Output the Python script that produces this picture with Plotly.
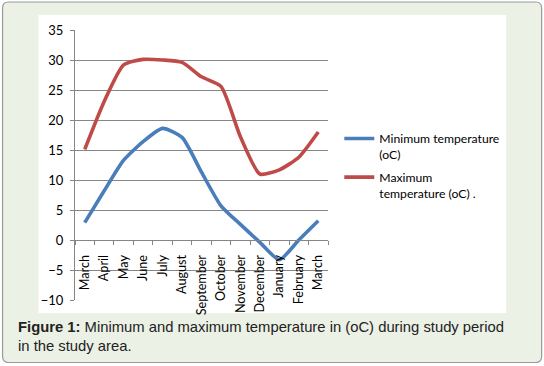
import plotly.graph_objects as go

# ---------------- data ----------------
months = ["March", "April", "May", "June", "July", "August", "September",
          "October", "November", "December", "January", "February", "March"]
min_temp = [2.9, 8.2, 13.3, 16.4, 18.6, 17.1, 11.3, 5.7, 2.6, -0.4, -3.3, 0.0, 3.2]
max_temp = [15.1, 23.1, 29.2, 30.1, 30.0, 29.6, 27.2, 25.6, 17.2, 11.0, 11.7, 13.8, 18.0]
series_names = ["Minimum temperature<br>(oC)", "Maximum<br>temperature (oC) ."]
y_ticks = [-10, -5, 0, 5, 10, 15, 20, 25, 30, 35]
caption = ("<b>Figure 1:</b> Minimum and maximum temperature in (oC) during study period"
           "<br>in the study area.")

# ---------------- layout geometry ----------------
W, H = 544, 366
ML, MR, MT, MB = 74.5, 216.3, 30, 66
PW, PH = W - ML - MR, H - MT - MB


def px_x(px):
    return (px - ML) / PW


def px_y(py):
    return (H - MB - py) / PH


x_idx = list(range(len(months)))
boundaries = [i - 0.5 for i in range(len(months) + 1)]

BLUE = "#4A7EBB"
RED = "#BE4B48"
GRID = "#868686"
FONT = "Lato"

fig = go.Figure()
fig.add_trace(go.Scatter(x=x_idx, y=min_temp, name=series_names[0], mode="lines",
                         legendgroup="min",
                         line=dict(color=BLUE, width=3.6, shape="spline", smoothing=0.6)))
fig.add_trace(go.Scatter(x=x_idx, y=max_temp, name=series_names[1], mode="lines",
                         legendgroup="max",
                         line=dict(color=RED, width=3.6, shape="spline", smoothing=0.6)))

ymin, ymax = y_ticks[0], y_ticks[-1]

# rounded outer panel
x0, y0, x1, y1, r = px_x(2), px_y(2), px_x(541.5), px_y(362.5), 6
rx, ry = r / PW, r / PH
path = (f"M{x0 + rx},{y0} L{x1 - rx},{y0} Q{x1},{y0} {x1},{y0 - ry} "
        f"L{x1},{y1 + ry} Q{x1},{y1} {x1 - rx},{y1} L{x0 + rx},{y1} "
        f"Q{x0},{y1} {x0},{y1 + ry} L{x0},{y0 - ry} Q{x0},{y0} {x0 + rx},{y0} Z")

fig.update_layout(
    width=W, height=H,
    margin=dict(l=ML, r=MR, t=MT, b=MB, pad=0),
    paper_bgcolor="white", plot_bgcolor="white",
    font=dict(family=FONT, size=12, color="#000000"),
    showlegend=True,
    legend=dict(x=px_x(339), y=px_y(124), xanchor="left", yanchor="top",
                bgcolor="rgba(0,0,0,0)", valign="top", tracegroupgap=4,
                traceorder="grouped",
                font=dict(family=FONT, size=12.2, color="#000000"),
                itemwidth=30),
    shapes=[
        dict(type="path", xref="paper", yref="paper", path=path,
             fillcolor="#EBF1E5", line=dict(color="#9A9A9A", width=1.2), layer="below"),
        dict(type="rect", xref="paper", yref="paper",
             x0=px_x(38), x1=px_x(506), y0=px_y(15), y1=px_y(313),
             fillcolor="white", line=dict(width=0), layer="below"),
    ],
    annotations=[
        dict(text=caption, xref="paper", yref="paper", x=px_x(15), y=px_y(317),
             xanchor="left", yanchor="top", align="left", showarrow=False,
             font=dict(family="Liberation Sans", size=14.8, color="#222222")),
    ],
)

fig.update_xaxes(
    range=[boundaries[0], boundaries[-1]],
    tickmode="array", tickvals=x_idx, ticktext=months, tickangle=-90,
    ticks="", showgrid=False, zeroline=False,
    showline=True, linecolor=GRID, linewidth=1,
    anchor="free", position=(0 - ymin) / (ymax - ymin),
    ticklabelstandoff=9, automargin=False,
    tickfont=dict(family=FONT, size=12.6, color="#000000"),
    minor=dict(tickmode="array", tickvals=boundaries, ticks="outside",
               ticklen=4, tickcolor=GRID, tickwidth=1, showgrid=False),
)
fig.update_yaxes(
    range=[ymin, ymax], tickmode="array", tickvals=y_ticks,
    showgrid=True, gridcolor=GRID, gridwidth=1, zeroline=False,
    showline=True, linecolor=GRID, linewidth=1,
    ticks="outside", ticklen=4, tickcolor=GRID,
    ticklabelstandoff=4, automargin=False,
    tickfont=dict(family=FONT, size=13, color="#000000"),
)

fig.write_html("out.html", config={"displayModeBar": False},
               post_script="document.body.style.margin='0';document.body.style.padding='0';")
